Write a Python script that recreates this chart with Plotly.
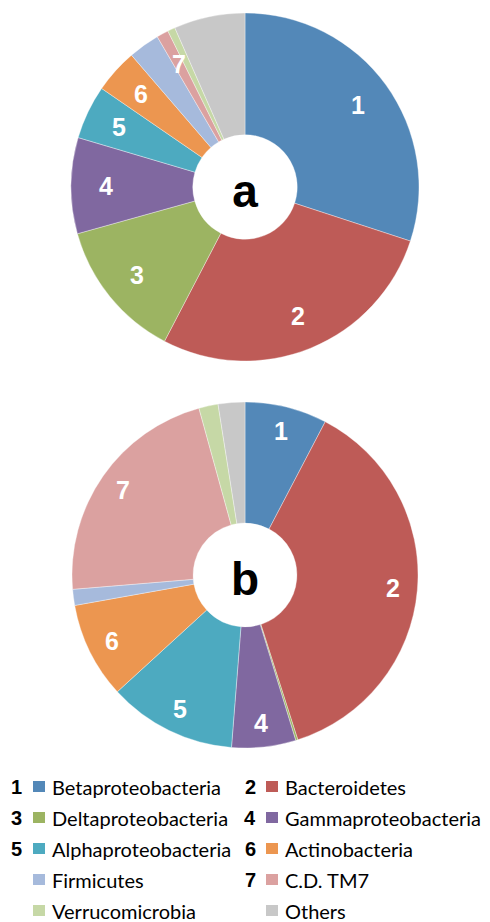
import math
import plotly.graph_objects as go

categories = ["Betaproteobacteria", "Bacteroidetes", "Deltaproteobacteria",
              "Gammaproteobacteria", "Alphaproteobacteria", "Actinobacteria",
              "Firmicutes", "C.D. TM7", "Verrucomicrobia", "Others"]
numbers = ["1", "2", "3", "4", "5", "6", "", "7", "", ""]
values_a = [30.0, 27.6, 13.0, 8.9, 5.0, 4.1, 2.9, 1.1, 0.7, 6.6]
values_b = [7.7, 37.5, 0.2, 6.0, 12.0, 9.0, 1.5, 22.1, 1.8, 2.5]
labels_a = ["1", "2", "3", "4", "5", "6", "", "7", "", ""]
labels_b = ["1", "2", "", "4", "5", "6", "", "7", "", ""]
panel_names = ["a", "b"]
colors = ["#5388B8", "#BE5B57", "#9CB462", "#8068A0", "#4DAAC0", "#EC9650",
          "#A6BADC", "#DBA1A0", "#C6D8A6", "#C8C8C8"]

W, H = 490, 922
fig = go.Figure()

pies = [(values_a, labels_a, (245, 187), 174, 0.80),
        (values_b, labels_b, (245, 575), 173, 0.86)]
for (vals, labs, (cx, cy), r, lab_frac), pname in zip(pies, panel_names):
    fig.add_trace(go.Pie(
        labels=categories, values=vals,
        textinfo="none",
        sort=False, direction="clockwise", rotation=0, hole=0.3,
        title=dict(text="<b>%s</b>" % pname, position="middle center",
                   font=dict(family="Liberation Sans, Arial", size=46, color="black")),
        marker=dict(colors=colors, line=dict(color="rgba(255,255,255,0.6)", width=0.6)),
        domain=dict(x=[(cx - r) / W, (cx + r) / W], y=[1 - (cy + r) / H, 1 - (cy - r) / H]),
        showlegend=False, hoverinfo="label+percent",
    ))
    # slice number labels at the angular middle of each slice (derived from the data)
    total = sum(vals)
    cum = 0.0
    for v, lab in zip(vals, labs):
        mid = (cum + v / 2) / total * 2 * math.pi
        cum += v
        if not lab:
            continue
        px = cx + lab_frac * r * math.sin(mid)
        py = cy - lab_frac * r * math.cos(mid)
        fig.add_annotation(x=px / W, y=1 - py / H, xref="paper", yref="paper",
                           text="<b>%s</b>" % lab, showarrow=False,
                           xanchor="center", yanchor="middle",
                           font=dict(family="Liberation Sans, Arial", size=25, color="white"))

# custom legend
row0, dy = 787, 31
col_num = [16, 250]
col_sq = [39, 272]
col_txt = [50, 283]
for i, name in enumerate(categories):
    c, rw = i % 2, i // 2
    y = row0 + rw * dy
    if numbers[i]:
        fig.add_annotation(x=col_num[c] / W, y=1 - y / H, xref="paper", yref="paper",
                           text="<b>%s</b>" % numbers[i], showarrow=False,
                           xanchor="center", yanchor="middle",
                           font=dict(family="Liberation Sans, Arial", size=20, color="black"))
    fig.add_shape(type="rect", xref="paper", yref="paper",
                  x0=(col_sq[c] - 6) / W, x1=(col_sq[c] + 6) / W,
                  y0=1 - (y + 5) / H, y1=1 - (y - 6) / H,
                  fillcolor=colors[i], line=dict(width=0))
    fig.add_annotation(x=col_txt[c] / W, y=1 - y / H, xref="paper", yref="paper",
                       text=name, showarrow=False, xanchor="left", yanchor="middle",
                       font=dict(family="Lato", size=20, color="black"))

fig.update_layout(width=W, height=H, margin=dict(l=0, r=0, t=0, b=0),
                  paper_bgcolor="white", plot_bgcolor="white")
fig.write_html("out.html")
